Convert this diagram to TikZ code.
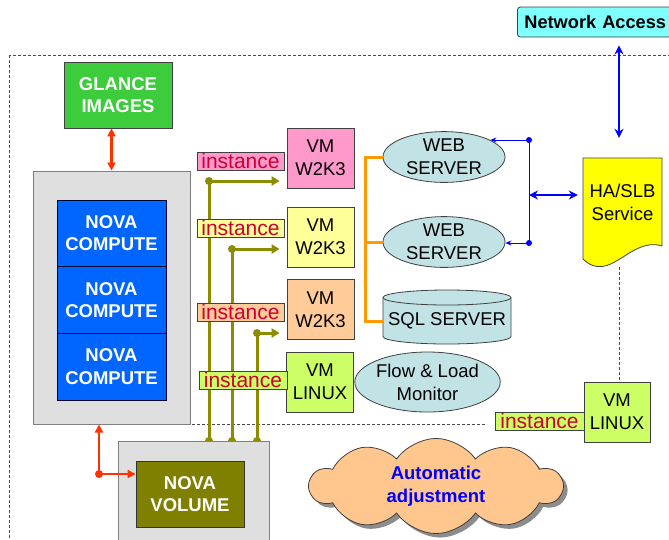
\documentclass[tikz,border=0pt]{standalone}
\usepackage{fontspec}
\setmainfont{Liberation Sans}
\usetikzlibrary{arrows.meta,shapes.geometric,shapes.symbols,shadows,calc}
\pgfdeclarelayer{bg}
\pgfsetlayers{bg,main}
\definecolor{netc}{HTML}{80FFFF}
\definecolor{glancec}{HTML}{3CCC3C}
\definecolor{grayc}{HTML}{DFDFDF}
\definecolor{compc}{HTML}{0066FF}
\definecolor{pinkc}{HTML}{FF99CC}
\definecolor{yelc}{HTML}{FFFF99}
\definecolor{peachc}{HTML}{FFCC99}
\definecolor{greenc}{HTML}{CCFF66}
\definecolor{ellc}{HTML}{C2E3E6}
\definecolor{hac}{HTML}{FFFF00}
\definecolor{cloudc}{HTML}{FFC78E}
\definecolor{olivec}{HTML}{808000}
\definecolor{olivel}{HTML}{8C8C00}
\definecolor{orangel}{HTML}{FF9900}
\definecolor{redl}{HTML}{FF3300}
\definecolor{instc}{HTML}{CC0033}
\definecolor{edgec}{HTML}{404040}
\definecolor{bluel}{HTML}{0000FF}
\begin{document}
\begin{tikzpicture}[x=1pt,y=-1pt,
  every node/.style={font=\fontsize{18.5}{23}\selectfont},
  bx/.style={draw=edgec, line width=0.8pt, inner sep=0pt, align=center},
  wbold/.style={text=white, font=\bfseries\fontsize{18.5}{22.5}\selectfont},
  graybox/.style={draw=gray, line width=1pt, fill=grayc, inner sep=0pt},
  compbox/.style={bx, fill=compc, draw=black!80!blue, wbold, minimum width=109pt, minimum height=66.7pt},
  vmbox/.style={bx, minimum width=67pt, minimum height=60pt},
  inst/.style={bx, minimum width=87pt, text height=15pt, text depth=1pt, inner ysep=1pt, inner xsep=0pt, text=instc, font=\fontsize{21}{21}\selectfont},
  srv/.style={ellipse, draw=edgec, line width=0.8pt, fill=ellc, inner sep=0pt, align=center},
  dashline/.style={draw=black!70, line width=0.7pt, dash pattern=on 3pt off 2pt},
  oline/.style={draw=olivel, line width=3pt},
  oarrow/.style={oline, -{Triangle[length=8pt,width=9pt]}, shorten >=7pt},
  rline/.style={draw=redl, line width=2.5pt},
  rtip/.style={-{Triangle[length=8pt,width=8pt]}},
  orangeline/.style={draw=orangel, line width=3pt},
  bthin/.style={draw=bluel, line width=1pt},
  bthick/.style={draw=bluel, line width=2.5pt, {Stealth[length=9pt,width=9pt]}-{Stealth[length=9pt,width=9pt]}}
]
\useasboundingbox (0,0) rectangle (669,539);
\begin{pgfonlayer}{bg}
\fill[white] (0,0) rectangle (669,539);
\end{pgfonlayer}
\clip (0,0) rectangle (669,539);

% nodes
\node[bx, fill=netc, rounded corners=3pt, anchor=west, minimum height=30pt, text width=180pt, inner xsep=7pt, align=left, font=\bfseries\fontsize{18.2}{23}\selectfont] (net) at (517,22) {Network Access};
\node[bx, fill=glancec, wbold, minimum width=108pt, minimum height=66pt] (glance) at (118,95) {GLANCE\\IMAGES};
\node[graybox, minimum width=157pt, minimum height=253pt] (cgray) at (111.5,297.5) {};
\node[compbox] (comp1) at (111.5,233.3) {NOVA\\COMPUTE};
\node[compbox] (comp2) at (111.5,300) {NOVA\\COMPUTE};
\node[compbox] (comp3) at (111.5,366.7) {NOVA\\COMPUTE};

\node[vmbox, fill=pinkc] (vm1) at (320.5,158) {VM\\W2K3};
\node[vmbox, fill=yelc] (vm2) at (320.5,237) {VM\\W2K3};
\node[vmbox, fill=peachc] (vm3) at (320.5,309.5) {VM\\W2K3};
\node[vmbox, fill=greenc] (vm4) at (320,382) {VM\\LINUX};
\node[vmbox, fill=greenc, minimum width=66pt] (vm5) at (617,412) {VM\\LINUX};

\node[inst, fill=pinkc] (i1) at (240.5,161) {instance};
\node[inst, fill=yelc] (i2) at (240.5,228) {instance};
\node[inst, fill=peachc] (i3) at (240.5,312.5) {instance};
\node[inst, fill=greenc, minimum width=88pt] (i4) at (243,380) {instance};
\node[inst, fill=greenc, minimum width=89pt] (i5) at (539.5,421.5) {instance};

\node[srv, minimum width=122pt, minimum height=50pt] (ws1) at (444,157) {WEB\\SERVER};
\node[srv, minimum width=122pt, minimum height=50pt] (ws2) at (444,242) {WEB\\SERVER};
\node[srv, minimum width=143pt, minimum height=60pt] (flow) at (427.5,382) {Flow \& Load\\Monitor};

% SQL cylinder
\path[fill=ellc, draw=edgec, line width=0.8pt] (383,297.5) -- (383,336.5)
  arc[start angle=180, end angle=360, x radius=64pt, y radius=7.5pt] -- (511,297.5)
  arc[start angle=0, end angle=180, x radius=64pt, y radius=7.5pt] -- cycle;
\draw[draw=edgec, line width=0.8pt] (383,297.5) arc[start angle=180, end angle=360, x radius=64pt, y radius=7.5pt];
\node[inner sep=0pt, minimum width=128pt, minimum height=46pt] (sql) at (447,321) {SQL SERVER};

% HA/SLB document shape
\path[fill=hac, draw=edgec, line width=0.8pt] (583,158) -- (662,158) -- (662,246)
  .. controls (630,236) and (610,285) .. (583,259) -- cycle;
\node[inner sep=0pt, minimum width=79pt, minimum height=88pt, align=center] (ha) at (622.5,202) {HA/SLB\\Service};

% cloud
\node[cloud, cloud puffs=10, cloud puff arc=110, aspect=3, minimum width=252pt, minimum height=80pt,
  fill=cloudc, draw=edgec, line width=0.8pt, align=center, text=bluel,
  font=\bfseries\fontsize{18.5}{23}\selectfont,
  drop shadow={shadow xshift=4pt, shadow yshift=-4pt, fill=black!45, opacity=1}] (cloud) at (436,486) {Automatic\\adjustment};

% volume
\node[graybox, minimum width=151pt, minimum height=130pt, anchor=north west] (volg) at (118,441) {};
\node[bx, fill=olivec, wbold, draw=black!80, minimum width=108pt, minimum height=66pt] (vol) at (190,494) {NOVA\\VOLUME};

% background lines
\begin{pgfonlayer}{bg}
\draw[dashline] (9,55) rectangle (720,600);
\coordinate (d1) at (192,424);
\coordinate (d2) at (487,424);
\draw[dashline] (d1) -- (d2);
\coordinate (hb) at (619,267);
\draw[dashline] (hb) -- (hb |- vm5.north);
\coordinate (o1) at (209,181);
\coordinate (o2) at (232,249);
\coordinate (o3) at (257,333);
\foreach \o/\v in {o1/vm1,o2/vm2,o3/vm3}{
  \draw[oline] (\o) -- (\o |- volg.north);
  \draw[oarrow] (\o) -- (\o -| \v.west);
  \fill[olivel] (\o) circle[radius=4pt];
  \fill[olivel] (\o |- volg.north) circle[radius=4pt];
}
\end{pgfonlayer}

% red arrows
\draw[rline, {Triangle[length=8pt,width=8pt]}-{Triangle[length=8pt,width=8pt]}] (cgray.north |- glance.south) -- (cgray.north);
\coordinate (rd) at (99,474);
\draw[rline, rtip] (rd) -- (rd |- cgray.south);
\draw[rline, rtip] (rd) -- (rd -| vol.west);
\fill[redl] (rd) circle[radius=4pt];

% orange bus
\coordinate (tk) at (365,321);
\draw[orangeline] (ws1.west) -| (tk) -- (sql.west |- tk);
\draw[orangeline] (ws2.west) -- (ws2.west -| tk);

% blue connectors
\coordinate (bt) at (529,140);
\coordinate (bb) at (529,243);
\coordinate (bm) at (529,195);
\draw[bthin] (bt) -- (bb);
\draw[bthin, -{Stealth[length=6pt,width=5pt]}] (bt) -- (bt -| ws1.20);
\draw[bthin, -{Stealth[length=6pt,width=5pt]}] (bb) -- (bb -| ws2.east);
\fill[bluel] (bt) circle[radius=3pt];
\fill[bluel] (bb) circle[radius=3pt];
\draw[bthick, shorten >=5pt] (bm) -- (bm -| ha.west);
\draw[bthick, shorten <=8pt, shorten >=20pt] (hb |- net.south) -- (hb |- ha.north);
\end{tikzpicture}
\end{document}
